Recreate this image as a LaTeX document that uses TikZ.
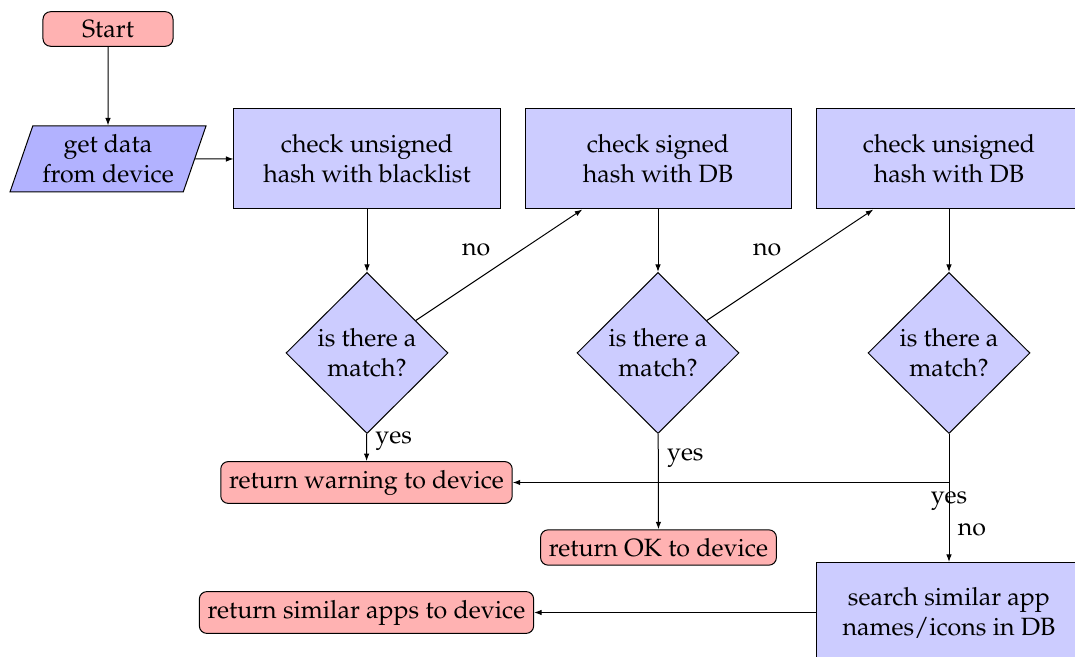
\documentclass[tikz,border=0pt]{standalone}
\usepackage[T1]{fontenc}
\usepackage{mathpazo}
\usetikzlibrary{shapes.geometric,arrows.meta}
\begin{document}
\begin{tikzpicture}[x=0.4pt,y=-0.4pt,
  startstop/.style={rectangle,rounded corners=3pt,draw,fill=red!30,align=center},
  io/.style={trapezium,trapezium left angle=67,trapezium right angle=113,draw,fill=blue!30,
    align=center,trapezium stretches body,minimum width=78.4pt,minimum height=26.4pt,inner sep=1pt},
  process/.style={rectangle,draw,fill=blue!20,minimum width=106.4pt,minimum height=40pt,align=center},
  decision/.style={diamond,draw,fill=blue!20,aspect=1,minimum width=64.8pt,minimum height=64.4pt,
    align=center,inner sep=0pt},
  arr/.style={-{Latex[length=3pt,width=2.2pt]}}]
\clip (0,0) rectangle (1075,657);
\useasboundingbox (0,0) rectangle (1075,657);

% nodes
\node[startstop,minimum width=52pt] (start) at (108,29) {Start};
\node[io] (gd) at (108,159) {get data\\from device};
\node[process] (b1) at (367,159) {check unsigned\\hash with blacklist};
\node[process] (b2) at (658,159) {check signed\\hash with DB};
\node[process] (b3) at (949,159) {check unsigned\\hash with DB};
\node[decision] (d1) at (367,353) {is there a\\match?};
\node[decision] (d2) at (658,353) {is there a\\match?};
\node[decision] (d3) at (949,353) {is there a\\match?};
\node[startstop] (warn) at (366.5,482.5) {return warning to device};
\node[startstop] (ok) at (658.5,547.5) {return OK to device};
\node[process] (search) at (949,612.5) {search similar app\\names/icons in DB};
\node[startstop] (similar) at (366.5,612.5) {return similar apps to device};

% connectors
\draw[arr] (start) -- (gd);
\draw[arr] (gd) -- (b1);
\draw[arr] (b1) -- (d1);
\draw[arr] (d1) -- node[right,pos=0.25]{yes} (warn);
\draw[arr] (d1) -- node[above left]{no} (b2);
\draw[arr] (b2) -- (d2);
\draw[arr] (d2) -- node[right,pos=0.25]{yes} (ok);
\draw[arr] (d2) -- node[above left]{no} (b3);
\draw[arr] (b3) -- (d3);
\draw[arr] (d3) |- node[below]{yes} (warn);
\draw[arr] (d3) -- node[right,pos=0.75]{no} (search);
\draw[arr] (search) -- (similar);
\end{tikzpicture}
\end{document}
